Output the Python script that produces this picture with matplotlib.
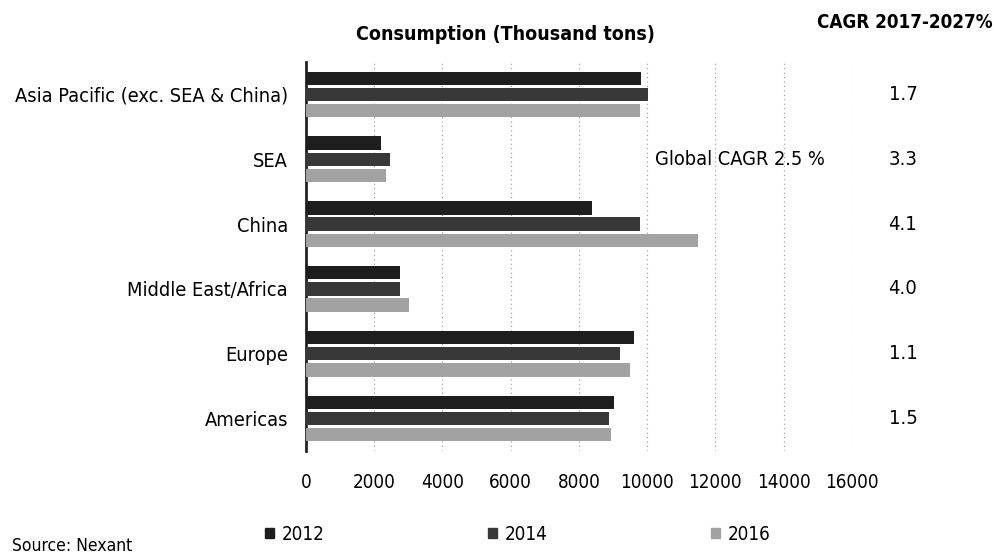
import numpy as np
import matplotlib.pyplot as plt
from matplotlib.patches import Patch

plt.rcParams['font.family'] = ['DejaVu Sans']
plt.rcParams['font.stretch'] = 'condensed'

regions = ['Asia Pacific (exc. SEA & China)', 'SEA', 'China',
           'Middle East/Africa', 'Europe', 'Americas']
years = ['2012', '2014', '2016']
cons_2012 = [9810, 2190, 8380, 2750, 9600, 9020]
cons_2014 = [10010, 2450, 9780, 2750, 9200, 8880]
cons_2016 = [9780, 2340, 11480, 3010, 9490, 8930]
cagr = ['1.7', '3.3', '4.1', '4.0', '1.1', '1.5']
colors = ['#1e1e1e', '#383838', '#a2a2a2']

fig = plt.figure(figsize=(9.95, 5.57), dpi=100)
ax = fig.add_axes([0.3075, 0.1903, 0.5487, 0.6984])

y = np.arange(len(regions))
for k, vals in enumerate([cons_2012, cons_2014, cons_2016]):
    ax.barh(y + (k - 1) * 0.25, vals, height=0.205, color=colors[k], zorder=3)

ax.set_xlim(0, 16000)
ax.set_ylim(len(regions) - 0.5, -0.5)
ax.set_xticks(np.arange(0, 16001, 2000))
ax.set_yticks(y)
ax.set_yticklabels(regions, fontsize=14.3)
ax.tick_params(axis='x', labelsize=13.5, length=0, pad=16)
ax.tick_params(axis='y', length=0, pad=13)
ax.xaxis.grid(True, linestyle=(0, (1, 3)), color='#999999', linewidth=0.8)
for s in ['top', 'right', 'bottom']:
    ax.spines[s].set_visible(False)
ax.spines['left'].set_linewidth(2)
ax.spines['left'].set_color('#222222')

fig.text(0.508, 1 - 34 / 557, 'Consumption (Thousand tons)', fontsize=14,
         fontweight='bold', ha='center', va='center')
fig.text(0.909, 1 - 22 / 557, 'CAGR 2017-2027%', fontsize=13.5,
         fontweight='bold', ha='center', va='center')
ax.text(10230, 1, 'Global CAGR 2.5 %', fontsize=14.3, va='center', ha='left')
for i, c in enumerate(cagr):
    ax.text(17495, i, c, fontsize=14.5, va='center', ha='center', clip_on=False)

handles = [Patch(color=c) for c in colors]
fig.legend(handles, years, loc='center left', bbox_to_anchor=(0.2493, 1 - 534 / 557),
           ncol=3, frameon=False, fontsize=13.5, handlelength=0.48, handleheight=0.48,
           handletextpad=0.43, columnspacing=8.7)
fig.text(0.012, 1 - 546 / 557, 'Source: Nexant', fontsize=12.5, ha='left', va='center')

fig.savefig('out.png', dpi=100)
